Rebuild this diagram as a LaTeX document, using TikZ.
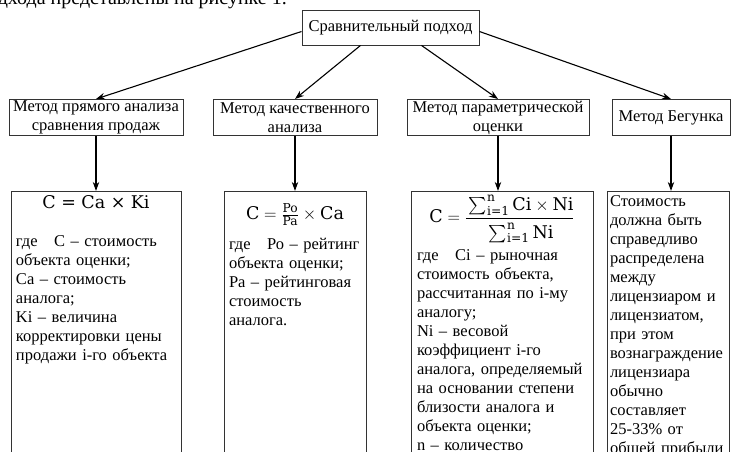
\documentclass[tikz,border=0pt]{standalone}
\usepackage{amsmath}
\usepackage{fontspec}
\setmainfont{Liberation Serif}
\newfontfamily\formfont{DejaVu Serif}
\usetikzlibrary{arrows.meta, positioning}
\newcommand{\fm}[1]{\text{\formfont #1}}
\newcommand{\formsize}{\fontsize{17.5}{19}\selectfont}

\begin{document}
\begin{tikzpicture}[
    x=1pt, y=-1pt,
    node distance=55pt,
    every node/.style={font=\fontsize{16.5}{19}\selectfont},
    box/.style={rectangle, draw=black!80, line width=0.9pt, inner sep=0pt,
                align=center},
    methodbox/.style={box, minimum height=36pt, anchor=north},
    detailbox/.style={rectangle, draw=black!80, line width=0.9pt, align=left,
                inner ysep=4pt, text depth=300pt},
    arrow/.style={-{Stealth[length=9pt, width=6.5pt]}, line width=1.1pt},
]
\useasboundingbox (0,0) rectangle (731,452);

% cut caption line above the scheme
\node[anchor=base east, inner sep=0pt, font=\fontsize{20}{24}\selectfont] (caption)
    at (287,5) {подхода представлены на рисунке 1.};

\node[box, minimum width=177pt, minimum height=35pt] (top) at (390.5,27.5)
    {Сравнительный подход};

\node[methodbox, minimum width=174pt] (m1) at (96,99)
    {Метод прямого анализа\\сравнения продаж};
\node[methodbox, minimum width=164pt] (m2) at (295,99)
    {Метод качественного\\анализа};
\node[methodbox, minimum width=182pt] (m3) at (498,99)
    {Метод параметрической\\оценки};
\node[methodbox, minimum width=118pt] (m4) at (671,99)
    {Метод Бегунка};

\node[detailbox, below=of m1, text width=160pt, inner xsep=5pt] (d1)
    {{\centering\formsize\formfont C = Ca × Ki\par}
     \vspace{19pt}
     где\quad С – стоимость\\
     объекта оценки;\\
     Са – стоимость\\
     аналога;\\
     Ki – величина\\
     корректировки~цены\\
     продажи~i-го~объекта};
\node[detailbox, below=of m2, text width=132pt, inner xsep=5pt] (d2)
    {{\centering\formsize\rule{0pt}{24pt}$\fm{C} = \frac{\fm{Po}}{\fm{Pa}} \times \fm{Ca}$\par}
     \vspace{11pt}
     где\quad Ро~–~рейтинг\\
     объекта оценки;\\
     Ра – рейтинговая\\
     стоимость\\
     аналога.};
\node[detailbox, below=of m3, xshift=4pt, text width=170pt, inner xsep=6pt] (d3)
    {{\centering\formsize\rule{0pt}{22pt}$\fm{C} = \dfrac{\rule[-6pt]{0pt}{0pt}\sum_{\fm{i=1}}^{\fm{n}} \fm{Ci} \times \fm{Ni}}
                                          {\rule{0pt}{17pt}\sum_{\fm{i=1}}^{\fm{n}} \fm{Ni}}$\par}
     \vspace{6pt}
     где\quad Ci – рыночная\\
     стоимость~объекта,\\
     рассчитанная~по~i-му\\
     аналогу;\\
     Ni – весовой\\
     коэффициент~i-го\\
     аналога,~определяемый\\
     на~основании~степени\\
     близости~аналога~и\\
     объекта~оценки;\\
     n – количество};
\node[detailbox, below=of m4, xshift=-3pt, text width=116pt, inner xsep=3pt] (d4)
    {Стоимость\\
     должна~быть\\
     справедливо\\
     распределена\\
     между\\
     лицензиаром~и\\
     лицензиатом,\\
     при~этом\\
     вознаграждение\\
     лицензиара\\
     обычно\\
     составляет\\
     25-33\%~от\\
     общей~прибыли};

\draw[arrow] ([yshift=-4pt]top.west)  -- (m1.north);
\draw[arrow] ([xshift=-30pt]top.south) -- (m2.north);
\draw[arrow] ([xshift=31pt]top.south)  -- (m3.north);
\draw[arrow] ([yshift=-4pt]top.east)  -- (m4.north);

\draw[arrow] (m1.south) -- (m1.south |- d1.north);
\draw[arrow] (m2.south) -- (m2.south |- d2.north);
\draw[arrow] (m3.south) -- (m3.south |- d3.north);
\draw[arrow] (m4.south) -- (m4.south |- d4.north);

\end{tikzpicture}
\end{document}
